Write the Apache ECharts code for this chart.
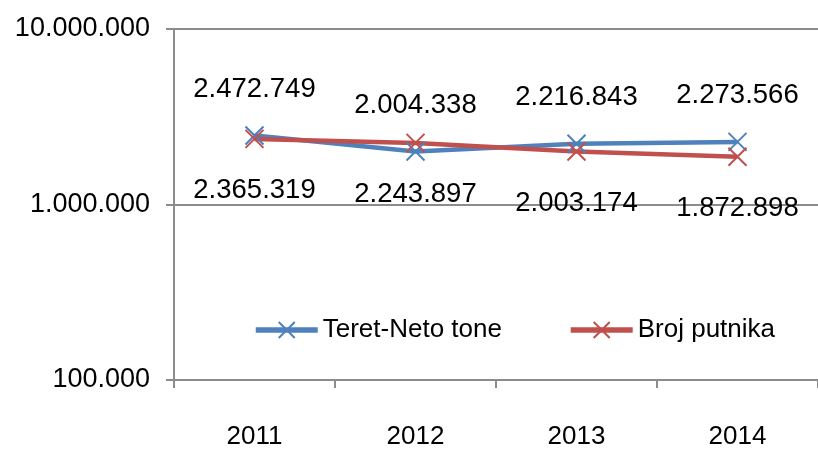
<!DOCTYPE html>
<html>
<head>
<meta charset="utf-8">
<script src="https://cdn.jsdelivr.net/npm/echarts@6/dist/echarts.min.js"></script>
<style>
  html, body { margin: 0; padding: 0; background: #fff; }
  #chart { width: 818px; height: 450px; }
</style>
</head>
<body>
<div id="chart"></div>
<script>
const categories = ["2011", "2012", "2013", "2014"];
const teretNetoTone = [2472749, 2004338, 2216843, 2273566];
const brojPutnika = [2365319, 2243897, 2003174, 1872898];
const yTicks = [100000, 1000000, 10000000];

const BLUE = "#4f81bd";
const RED = "#c0504d";
const GRID = "#8c8c8c";
const FONT = "Liberation Sans, Arial, sans-serif";

const fmt = (v) => String(Math.round(v)).replace(/\B(?=(\d{3})+(?!\d))/g, ".");
const xMark = "path://M0,0L10,10M10,0L0,10";

const chart = echarts.init(document.getElementById("chart"));

const lineSeries = (name, data, color, pos, dist) => ({
  name,
  type: "line",
  data,
  symbol: xMark,
  symbolSize: 18,
  lineStyle: { color, width: 4.5 },
  itemStyle: { color: "transparent", borderColor: color, borderWidth: 2 },
  label: {
    show: true,
    position: pos,
    distance: dist,
    color: "#000",
    fontFamily: FONT,
    fontSize: 27.5,
    formatter: (p) => fmt(p.value),
  },
  emphasis: { disabled: true },
});

chart.setOption({
  backgroundColor: "#fff",
  animation: false,
  textStyle: { fontFamily: FONT },
  legend: {
    left: 248,
    top: 312,
    itemWidth: 62,
    itemHeight: 20,
    itemGap: 66,
    textStyle: { color: "#000", fontSize: 26, fontFamily: FONT },
    data: [
      { name: "Teret-Neto tone", itemStyle: { color: BLUE, borderColor: BLUE }, lineStyle: { color: BLUE, width: 5.5 } },
      { name: "Broj putnika", itemStyle: { color: RED, borderColor: RED }, lineStyle: { color: RED, width: 5.5 } },
    ],
  },
  grid: { left: 174, right: -4, top: 29, bottom: 69 },
  xAxis: {
    type: "category",
    data: categories,
    boundaryGap: true,
    axisLine: { lineStyle: { color: GRID, width: 2 } },
    axisTick: { show: true, length: 8, lineStyle: { color: GRID, width: 2 } },
    axisLabel: { color: "#000", fontSize: 26, fontFamily: FONT, margin: 44 },
  },
  yAxis: {
    type: "log",
    logBase: 10,
    min: yTicks[0],
    max: yTicks[yTicks.length - 1],
    axisLine: { show: true, lineStyle: { color: GRID, width: 2 } },
    axisTick: { show: true, length: 8, lineStyle: { color: GRID, width: 2 } },
    splitLine: { lineStyle: { color: GRID, width: 2 } },
    axisLabel: {
      color: "#000",
      fontSize: 27,
      fontFamily: FONT,
      margin: 24,
      formatter: (v) => fmt(v),
    },
  },
  series: [
    lineSeries("Teret-Neto tone", teretNetoTone, BLUE, "top", 22),
    lineSeries("Broj putnika", brojPutnika, RED, "bottom", 28),
  ],
});
</script>
</body>
</html>
